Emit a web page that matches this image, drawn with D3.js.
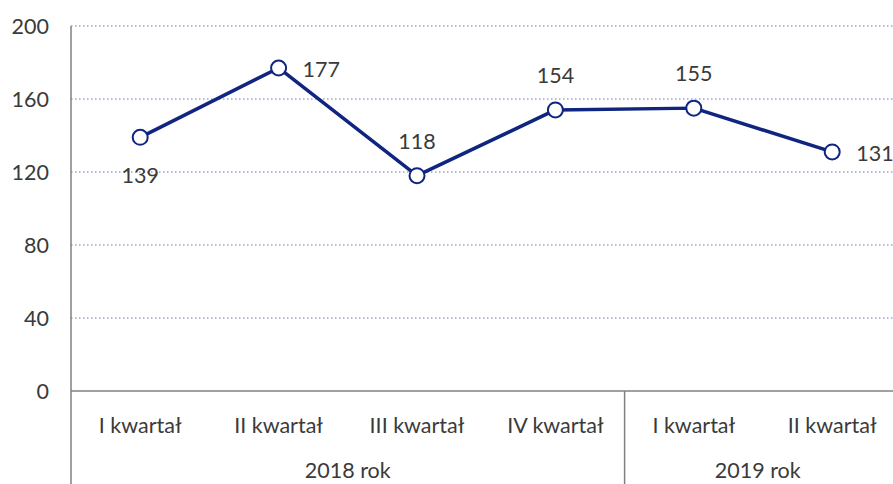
<!DOCTYPE html>
<html><head><meta charset="utf-8">
<script src="https://cdn.jsdelivr.net/npm/d3@7"></script>
<style>body{margin:0;background:#fff}svg{display:block}text{font-family:Lato,"Open Sans",sans-serif;fill:#3a3a3a}</style>
</head><body>
<svg id="c" width="893" height="484"></svg>
<script>
const categories = ["I kwartał","II kwartał","III kwartał","IV kwartał","I kwartał","II kwartał"];
const values = [139,177,118,154,155,131];
const labelPos = ["below","right","above","above","above","right"];
const years = ["2018 rok","2019 rok"];
const yearSpans = [[0,4],[4,6]];
const yTicks = [0,40,80,120,160,200];

(function(){
const svg = d3.select("#c");
const mLeft = 71, mTop = 26, mBottom = 391, bandW = 138.4;
const x = d3.scaleBand().domain(d3.range(categories.length)).range([mLeft, mLeft + bandW*categories.length]);
const y = d3.scaleLinear().domain([0,200]).range([mBottom, mTop]);
const navy = "#0f2580";
const fs = "21.5px";

svg.append("g").selectAll("line").data(yTicks.filter(d=>d>0)).join("line")
  .attr("x1", mLeft).attr("x2", 893).attr("y1", d=>y(d)).attr("y2", d=>y(d))
  .attr("stroke", "#a3a3d6").attr("stroke-width", 1.3).attr("stroke-dasharray", "1.5,2.5");

const ya = svg.append("g").attr("transform", `translate(${mLeft},0)`)
  .call(d3.axisLeft(y).tickValues(yTicks).tickSize(0).tickPadding(22));
ya.select(".domain").remove();
ya.selectAll("text").style("font-size",fs).style("fill","#3a3a3a").style("font-family","Lato,'Open Sans',sans-serif").attr("dy","0.36em");
svg.append("line").attr("x1",mLeft).attr("x2",mLeft).attr("y1",mTop).attr("y2",484).attr("stroke","#808080").attr("stroke-width",1.5);
svg.append("line").attr("x1",mLeft).attr("x2",893).attr("y1",mBottom).attr("y2",mBottom).attr("stroke","#808080").attr("stroke-width",1.5);
yearSpans.slice(1).forEach(s=>{
  const xx = x(s[0]);
  svg.append("line").attr("x1",xx).attr("x2",xx).attr("y1",mBottom).attr("y2",484).attr("stroke","#808080").attr("stroke-width",1.5);
});
svg.append("g").selectAll("text").data(categories).join("text")
  .attr("x",(d,i)=>x(i)+x.bandwidth()/2).attr("y",433).attr("text-anchor","middle")
  .style("font-size",fs).text(d=>d);
svg.append("g").selectAll("text").data(years).join("text")
  .attr("x",(d,i)=>(x(yearSpans[i][0]) + Math.min(x(yearSpans[i][1]-1)+x.bandwidth(), 893))/2 + (i===1?-1:0))
  .attr("y",478).attr("text-anchor","middle").style("font-size",fs).text(d=>d);

const cx = i => x(i)+x.bandwidth()/2;
svg.append("path").datum(values)
  .attr("d", d3.line().x((d,i)=>cx(i)).y(d=>y(d)))
  .attr("fill","none").attr("stroke",navy).attr("stroke-width",3.5).attr("stroke-linejoin","round");
svg.append("g").selectAll("circle").data(values).join("circle")
  .attr("cx",(d,i)=>cx(i)).attr("cy",d=>y(d)).attr("r",7.5)
  .attr("fill","#fff").attr("stroke",navy).attr("stroke-width",2);
svg.append("g").selectAll("text").data(values).join("text")
  .attr("x",(d,i)=> labelPos[i]==="right" ? cx(i)+24 : cx(i))
  .attr("y",(d,i)=> labelPos[i]==="below" ? y(d)+46 : labelPos[i]==="above" ? y(d)-27 : y(d)+9)
  .attr("text-anchor",(d,i)=> labelPos[i]==="right" ? "start" : "middle")
  .style("font-size",fs).text(d=>d);
})();
</script>
</body></html>
